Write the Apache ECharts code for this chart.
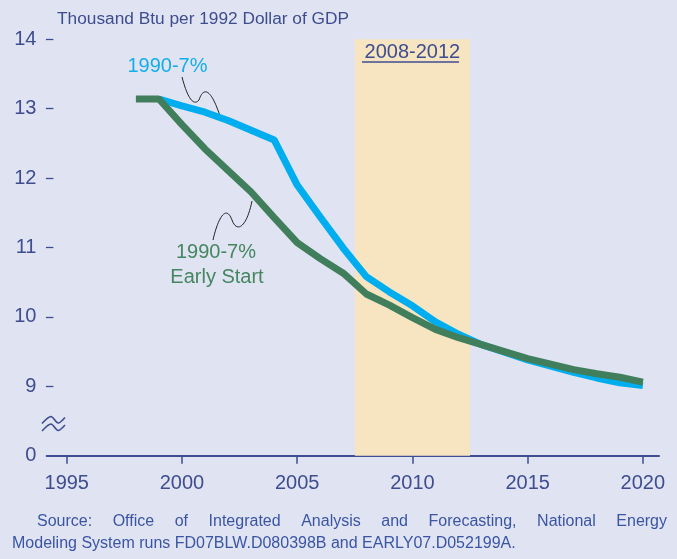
<!DOCTYPE html>
<html>
<head>
<meta charset="utf-8">
<script src="https://cdn.jsdelivr.net/npm/echarts@6/dist/echarts.min.js"></script>
<style>
html,body{margin:0;padding:0;background:#e0e3f2;}
#chart{width:677px;height:559px;}
</style>
</head>
<body>
<div id="chart"></div>
<script>
//数据
var years = [1998,1999,2000,2001,2002,2003,2004,2005,2006,2007,2008,2009,2010,2011,2012,2013,2014,2015,2016,2017,2018,2019,2020];
var baseVals = [null,13.14,13.04,12.95,12.83,12.69,12.55,11.90,11.44,10.99,10.58,10.36,10.16,9.93,9.75,9.60,9.49,9.38,9.29,9.20,9.12,9.05,9.01];   //1990-7%
var earlyVals = [13.14,13.14,12.77,12.42,12.11,11.80,11.43,11.07,10.84,10.63,10.33,10.17,9.99,9.82,9.70,9.60,9.50,9.40,9.32,9.24,9.18,9.13,9.06]; //1990-7% Early Start
var xTicks = [1995,2000,2005,2010,2015,2020];
var yTicks = [9,10,11,12,13,14];
var yLabels = [8,9,10,11,12,13,14];   //8 画成 "0"（断轴）
var band = [2007.5, 2012.5];

var navy = '#3e4d8f';
var font = '"Liberation Sans", Arial, sans-serif';

function pairs(vals){
	var out = [];
	for(var i = 0; i < years.length; i++){
		if(vals[i] != null) out.push([years[i], vals[i]]);
	}
	return out;
}

var chart = echarts.init(document.getElementById('chart'));

/****************************来源文字两端对齐****************************/
var line1 = 'Source: Office of Integrated Analysis and Forecasting, National Energy'.split(' ');
var ctx = document.createElement('canvas').getContext('2d');
ctx.font = '16px ' + font;
var l1Left = 37, l1Right = 667;
var wsum = 0;
line1.forEach(function(w){ wsum += ctx.measureText(w).width; });
var gap = (l1Right - l1Left - wsum) / (line1.length - 1);
var srcColor = '#3a55a4';
var graphics = [];
var cx = l1Left;
line1.forEach(function(w){
	graphics.push({type:'text', x: cx, y: 514, style:{text:w, fontSize:16, fontFamily:font, fill:srcColor, verticalAlign:'top'}});
	cx += ctx.measureText(w).width + gap;
});
graphics.push({type:'text', x: 12, y: 536, style:{text:'Modeling System runs FD07BLW.D080398B and EARLY07.D052199A.', fontSize:16, fontFamily:font, fill:srcColor, verticalAlign:'top'}});

//标题
graphics.push({type:'text', x: 57, y: 11, style:{text:'Thousand Btu per 1992 Dollar of GDP', fontSize:17.3, fontFamily:font, fill:navy, verticalAlign:'top'}});

//线条标注
graphics.push({type:'text', x: 167.5, y: 56, style:{text:'1990-7%', fontSize:20, fontFamily:font, fill:'#13aeea', align:'center', verticalAlign:'top'}});
graphics.push({type:'text', x: 216, y: 242, style:{text:'1990-7%', fontSize:20, fontFamily:font, fill:'#458660', align:'center', verticalAlign:'top'}});
graphics.push({type:'text', x: 217, y: 267, style:{text:'Early Start', fontSize:20, fontFamily:font, fill:'#458660', align:'center', verticalAlign:'top'}});

//引线
var leader = {stroke:'#222', lineWidth:1, fill:null};
graphics.push({type:'bezierCurve', shape:{x1:182,y1:77,cpx1:188,cpy1:100,cpx2:194,cpy2:106,x2:199,y2:100}, style:leader});
graphics.push({type:'bezierCurve', shape:{x1:199,y1:100,cpx1:203,cpy1:88,cpx2:210,cpy2:86,x2:220,y2:116}, style:leader});
graphics.push({type:'bezierCurve', shape:{x1:213,y1:240,cpx1:218,cpy1:218,cpx2:226,cpy2:204,x2:232,y2:220}, style:leader});
graphics.push({type:'bezierCurve', shape:{x1:232,y1:220,cpx1:236,cpy1:232,cpx2:246,cpy2:230,x2:252,y2:201}, style:leader});

//断轴符号
graphics.push({type:'polyline', shape:{points:[[42,423.5],[51,416.5],[58,423],[65,417.5]], smooth:0.3}, style:{stroke:navy, lineWidth:1.6, fill:null}});
graphics.push({type:'polyline', shape:{points:[[42,431],[51,424],[58,430.5],[65,425]], smooth:0.3}, style:{stroke:navy, lineWidth:1.6, fill:null}});

//2008-2012 下划线
graphics.push({type:'line', z: 100, shape:{x1:362, y1:62, x2:459, y2:62}, style:{stroke:navy, lineWidth:1.5}});

var option = {
	backgroundColor: '#e0e3f2',
	animation: false,
	grid: {left: 46.7, right: 18, top: 39.3, bottom: 103.3, containLabel: false},
	xAxis: {
		type: 'value',
		min: 1994.13,
		max: 2020.7,
		axisLine: {show: true, lineStyle: {color: navy, width: 2}},
		axisTick: {show: true, length: 8, lineStyle: {color: navy, width: 1.5}, customValues: xTicks},
		axisLabel: {
			color: navy, fontSize: 20, fontFamily: font, margin: 18, customValues: xTicks,
			formatter: function(v){ return String(v); }
		},
		splitLine: {show: false}
	},
	yAxis: {
		type: 'value',
		min: 8,
		max: 14,
		interval: 1,
		offset: -6.7,
		axisLine: {show: false},
		axisTick: {show: true, length: 7.5, lineStyle: {color: navy, width: 1.3}, customValues: yTicks},
		axisLabel: {
			color: navy, fontSize: 20, fontFamily: font, margin: 17, customValues: yLabels,
			formatter: function(v){ return v == 8 ? '0' : String(v); }
		},
		splitLine: {show: false}
	},
	series: [{
		name: '1990-7%',
		type: 'line',
		data: pairs(baseVals),
		symbol: 'none',
		lineStyle: {color: '#00aeef', width: 7},
		z: 2,
		markArea: {
			silent: true,
			itemStyle: {color: '#f7e5c1'},
			label: {show: true, position: 'insideTop', distance: 3.5, color: navy, fontSize: 20, fontFamily: font},
			data: [[{xAxis: band[0], name: '2008-2012'}, {xAxis: band[1]}]]
		}
	}, {
		name: '1990-7% Early Start',
		type: 'line',
		data: pairs(earlyVals),
		symbol: 'none',
		lineStyle: {color: '#417f5c', width: 7},
		z: 3
	}],
	graphic: {elements: graphics}
};
chart.setOption(option);
</script>
</body>
</html>
